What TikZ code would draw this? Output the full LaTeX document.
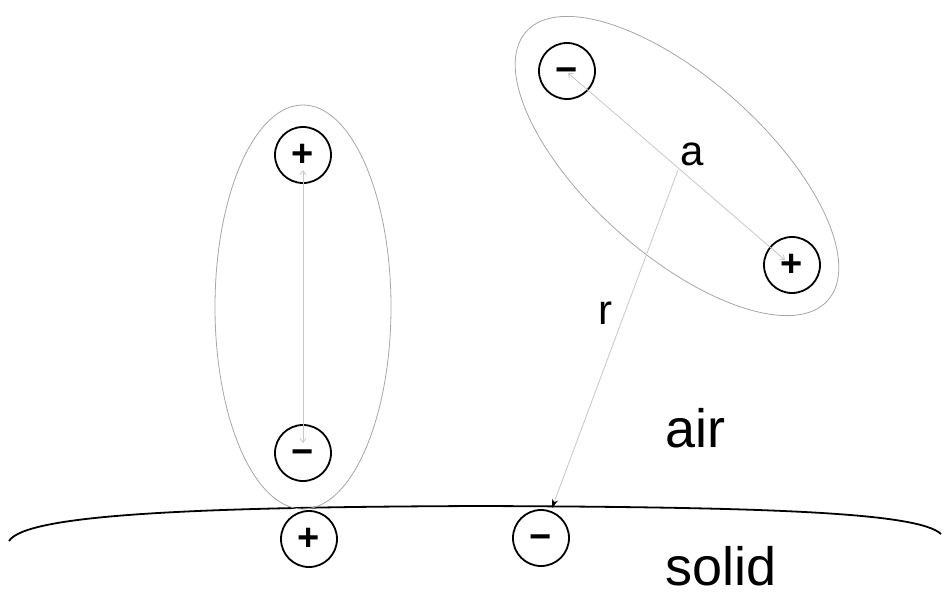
\documentclass[tikz,border=0pt]{standalone}
\usepackage{fontspec}
\setmainfont{Liberation Sans}
\usetikzlibrary{arrows.meta}
\newcommand{\sgn}[1]{#1\vphantom{+}}
\begin{document}
\begin{tikzpicture}[x=1pt,y=-1pt,
  charge/.style={circle,draw=black,line width=1.8pt,minimum size=56pt,inner sep=0pt,font=\fontsize{38}{38}\selectfont\bfseries},
  dipole/.style={draw=black!35,line width=0.8pt},
  sep/.style={draw=black!22,line width=0.8pt,{Straight Barb[length=4pt,width=6pt]}-{Straight Barb[length=4pt,width=6pt]}},
  dist/.style={draw=black!22,line width=0.8pt,-{Stealth[length=9pt,width=6pt,black]}},
  surf/.style={draw=black,line width=1.8pt},
  lbl/.style={inner sep=0pt,anchor=base}]
\useasboundingbox (0,0) rectangle (945,595);
% surface
\draw[surf] (9,541) .. controls (26,514) and (200,507) .. (480,506) .. controls (760,507) and (918,512) .. (941,534);
% left dipole
\draw[dipole] (303,307) ellipse [x radius=88pt, y radius=202pt];
\node[charge] (lp) at (303,155) {\sgn{+}};
\node[charge] (lm) at (303,453) {\sgn{−}};
\coordinate (lpt) at (303,170);
\coordinate (lmt) at (303,443);
\draw[sep] (lpt) -- (lmt);
% right dipole
\draw[dipole,shift={(677,166)},rotate=-41.7] (0,0) ellipse [x radius=202pt, y radius=88pt];
\node[charge] (rm) at (567,71) {\sgn{−}};
\node[charge] (rp) at (792,265) {\sgn{+}};
\coordinate (rmt) at (568,73);
\coordinate (rpt) at (785,260);
\draw[sep] (rmt) -- (rpt);
% surface charges
\node[charge] (sp) at (309,539) {\sgn{+}};
\node[charge] (sm) at (541,538) {\sgn{−}};
% distance r
\coordinate (rs) at (678,170);
\coordinate (re) at (552,508);
\draw[dist] (rs) -- (re);
% labels
\node[lbl,font=\fontsize{42}{42}\selectfont] (la) at (692,165) {a};
\node[lbl,font=\fontsize{42}{42}\selectfont] (lr) at (605,324) {r};
\node[lbl,font=\fontsize{54}{54}\selectfont] (lair) at (695,447) {air};
\node[lbl,font=\fontsize{54}{54}\selectfont] (lsolid) at (721,585) {solid};
\end{tikzpicture}
\end{document}
